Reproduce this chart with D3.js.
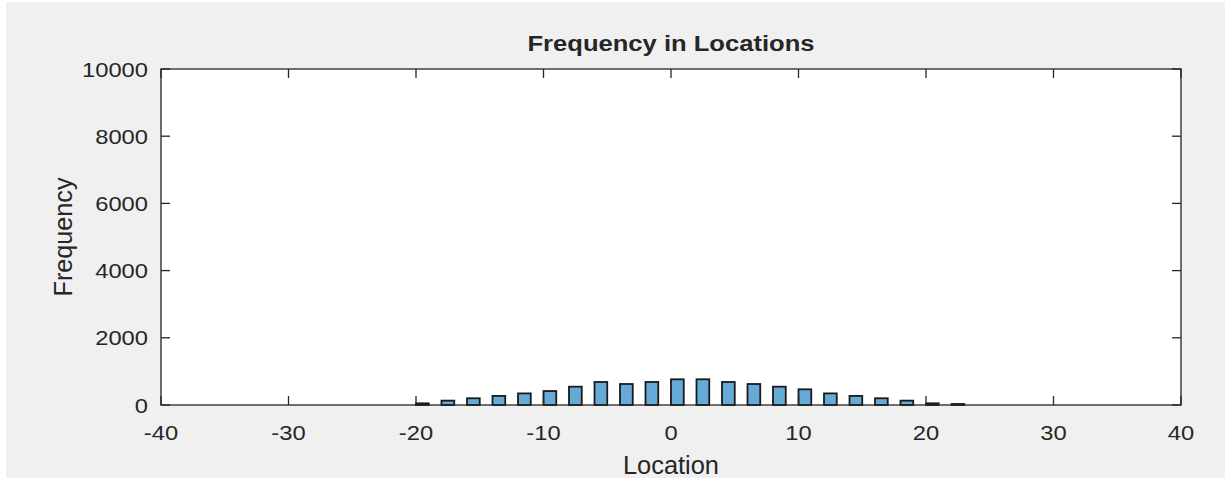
<!DOCTYPE html>
<html>
<head>
<meta charset="utf-8">
<script src="https://cdn.jsdelivr.net/npm/d3@7"></script>
<style>
  html, body { margin: 0; padding: 0; background: #ffffff; }
  svg { display: block; }
  text { font-family: "Liberation Sans", Arial, Helvetica, sans-serif; fill: #262626; }
</style>
</head>
<body>
<svg id="chart" width="1226" height="479"></svg>
<script>
// ---- data ----
const binLeft = [-20, -18, -16, -14, -12, -10, -8, -6, -4, -2, 0, 2, 4, 6, 8, 10, 12, 14, 16, 18, 20, 22];
const binWidth = 1;
const counts = [50, 130, 200, 270, 345, 415, 545, 685, 625, 685, 765, 765, 685, 625, 545, 467, 345, 270, 200, 130, 50, 30];
const xTicks = [-40, -30, -20, -10, 0, 10, 20, 30, 40];
const xTickLabels = ["-40", "-30", "-20", "-10", "0", "10", "20", "30", "40"];
const yTicks = [0, 2000, 4000, 6000, 8000, 10000];
const yTickLabels = ["0", "2000", "4000", "6000", "8000", "10000"];
const titleText = "Frequency in Locations";
const xLabelText = "Location";
const yLabelText = "Frequency";

// ---- layout ----
const svg = d3.select("#chart");
const L = 161, R = 1181, T = 69, B = 405;
const sx = 1.13;

svg.append("rect").attr("x", 6).attr("y", 2).attr("width", 1219).attr("height", 476).attr("fill", "#f0f0f0");

const x = d3.scaleLinear().domain([-40, 40]).range([L, R]);
const y = d3.scaleLinear().domain([0, 10000]).range([B, T]);

svg.append("rect").attr("x", L).attr("y", T).attr("width", R - L).attr("height", B - T).attr("fill", "#ffffff");

// bars
svg.append("g").selectAll("rect").data(binLeft).join("rect")
  .attr("x", (d) => x(d))
  .attr("width", (d) => x(d + binWidth) - x(d))
  .attr("y", (d, i) => y(counts[i]))
  .attr("height", (d, i) => y(0) - y(counts[i]))
  .attr("fill", "#66aad7")
  .attr("stroke", "#1a1a1a")
  .attr("stroke-width", 1.8);

// axes (MATLAB box style with inward ticks)
const axisColor = "#262626";
const tickLen = 9;
const gAx = svg.append("g").attr("stroke", axisColor).attr("stroke-width", 1.3).attr("fill", "none");
gAx.append("rect").attr("x", L).attr("y", T).attr("width", R - L).attr("height", B - T);
xTicks.forEach((t) => {
  gAx.append("line").attr("x1", x(t)).attr("x2", x(t)).attr("y1", B).attr("y2", B - tickLen);
  gAx.append("line").attr("x1", x(t)).attr("x2", x(t)).attr("y1", T).attr("y2", T + tickLen);
});
yTicks.forEach((t) => {
  gAx.append("line").attr("x1", L).attr("x2", L + tickLen).attr("y1", y(t)).attr("y2", y(t));
  gAx.append("line").attr("x1", R).attr("x2", R - tickLen).attr("y1", y(t)).attr("y2", y(t));
});

// tick labels
svg.append("g").selectAll("text").data(xTicks).join("text")
  .attr("transform", (d) => `translate(${x(d)},440) scale(${sx},1)`)
  .attr("text-anchor", "middle")
  .attr("font-size", 21)
  .attr("fill", "#333333")
  .text((d, i) => xTickLabels[i]);

svg.append("g").selectAll("text").data(yTicks).join("text")
  .attr("transform", (d) => `translate(148,${y(d) + 7.5}) scale(${sx},1)`)
  .attr("text-anchor", "end")
  .attr("font-size", 21)
  .attr("fill", "#333333")
  .text((d, i) => yTickLabels[i]);

// title and labels
svg.append("text")
  .attr("x", 671).attr("y", 51)
  .attr("text-anchor", "middle")
  .attr("font-size", 22).attr("font-weight", "bold")
  .attr("textLength", 287).attr("lengthAdjust", "spacingAndGlyphs")
  .text(titleText);

svg.append("text")
  .attr("x", 671).attr("y", 474)
  .attr("text-anchor", "middle")
  .attr("font-size", 25)
  .attr("fill", "#333333")
  .attr("textLength", 96).attr("lengthAdjust", "spacingAndGlyphs")
  .text(xLabelText);

svg.append("text")
  .attr("transform", "translate(72,237) rotate(-90)")
  .attr("text-anchor", "middle")
  .attr("font-size", 25)
  .attr("fill", "#333333")
  .attr("textLength", 119).attr("lengthAdjust", "spacingAndGlyphs")
  .text(yLabelText);
</script>
</body>
</html>
